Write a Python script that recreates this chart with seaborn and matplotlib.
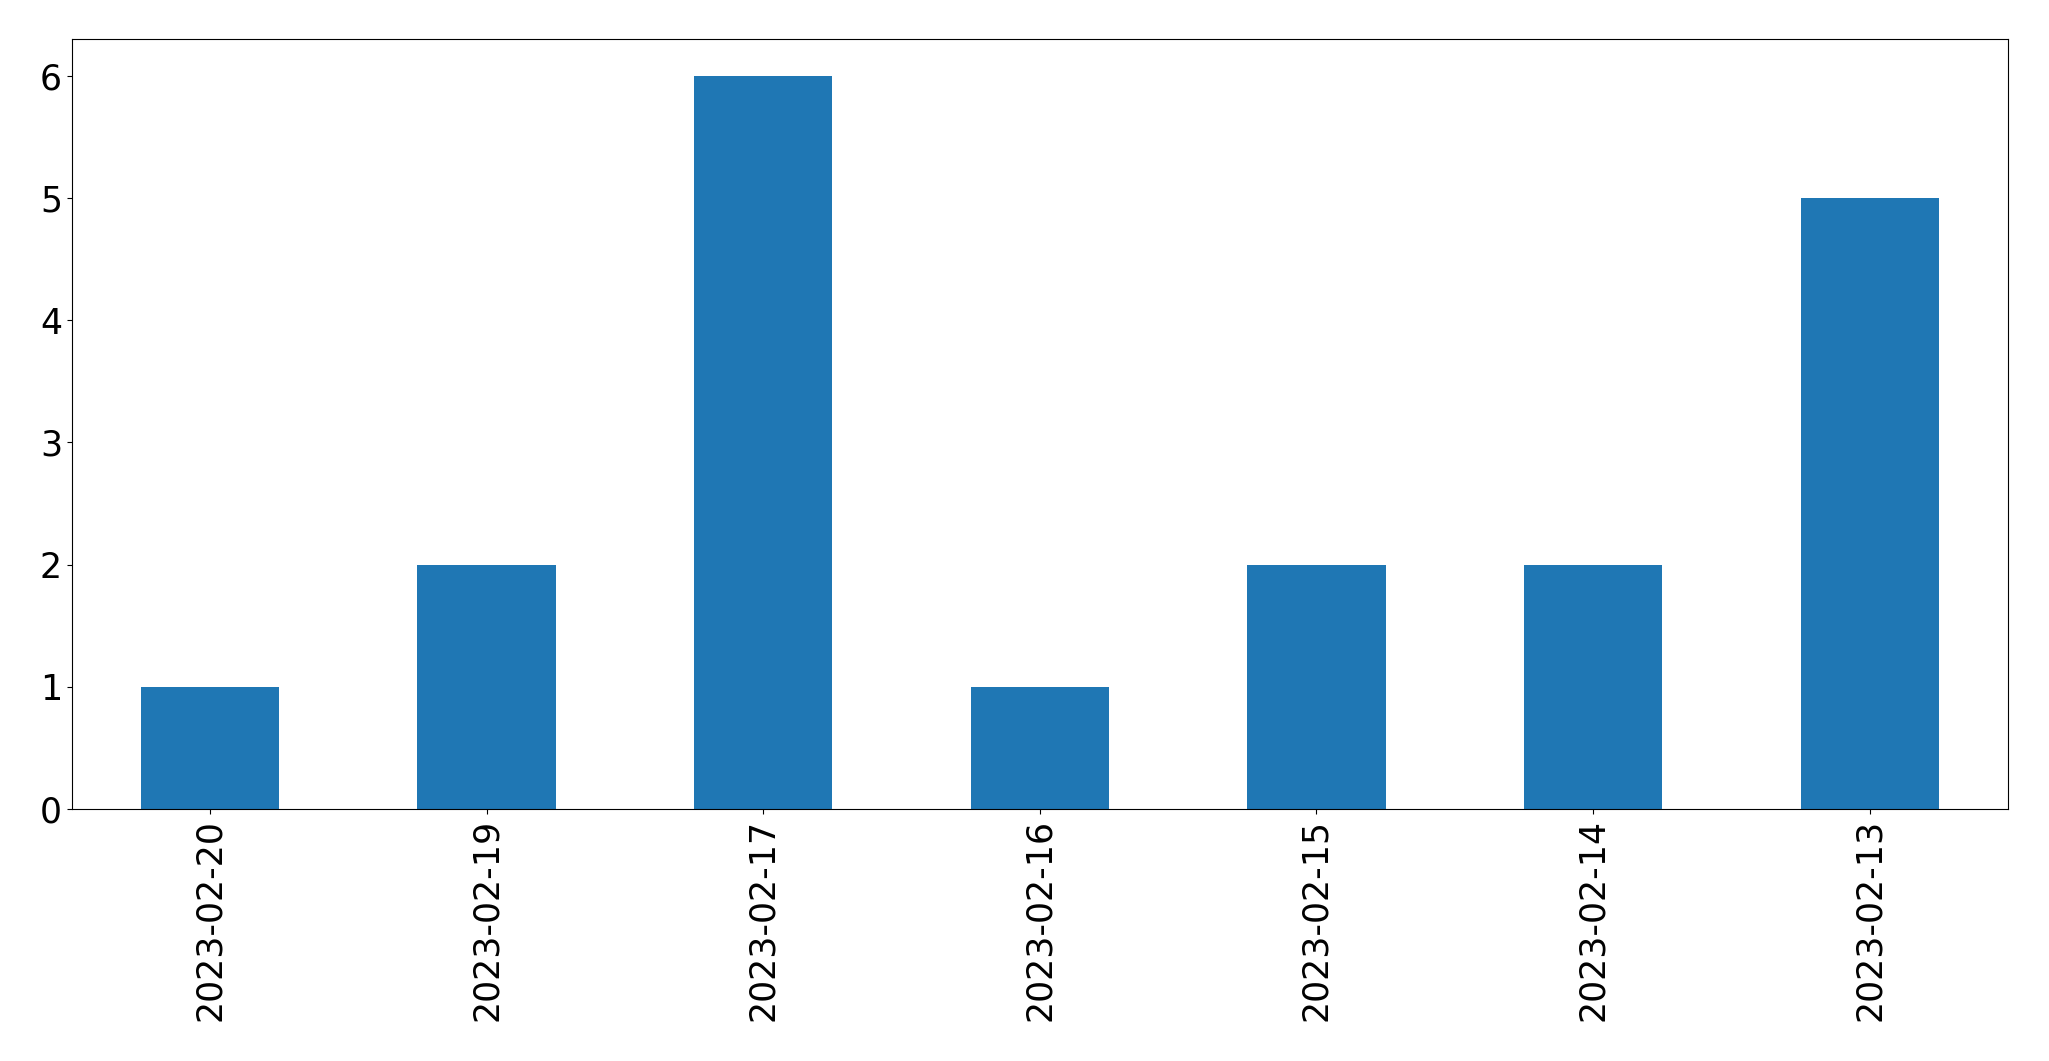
import matplotlib
matplotlib.use("Agg")
import matplotlib.pyplot as plt
import seaborn as sns
import pandas as pd

# counts per day (newest first, as in the source)
dates = ["2023-02-20", "2023-02-19", "2023-02-17", "2023-02-16",
         "2023-02-15", "2023-02-14", "2023-02-13"]
counts = [1, 2, 6, 1, 2, 2, 5]

df = pd.DataFrame({"date": dates, "count": counts})

fig, ax = plt.subplots(figsize=(20.49, 10.61), dpi=100)
sns.barplot(data=df, x="date", y="count", order=dates, color="#1f77b4",
            saturation=1, width=0.5, ax=ax)

ax.set_xlabel("")
ax.set_ylabel("")
ax.tick_params(axis="both", labelsize=25)
plt.setp(ax.get_xticklabels(), rotation=90)
ax.set_xlim(-0.5, len(dates) - 0.5)
ax.set_ylim(0, 6.3)

fig.subplots_adjust(left=0.035, right=0.980, top=0.963, bottom=0.2375)
fig.savefig("out.png", dpi=100)
plt.close(fig)
